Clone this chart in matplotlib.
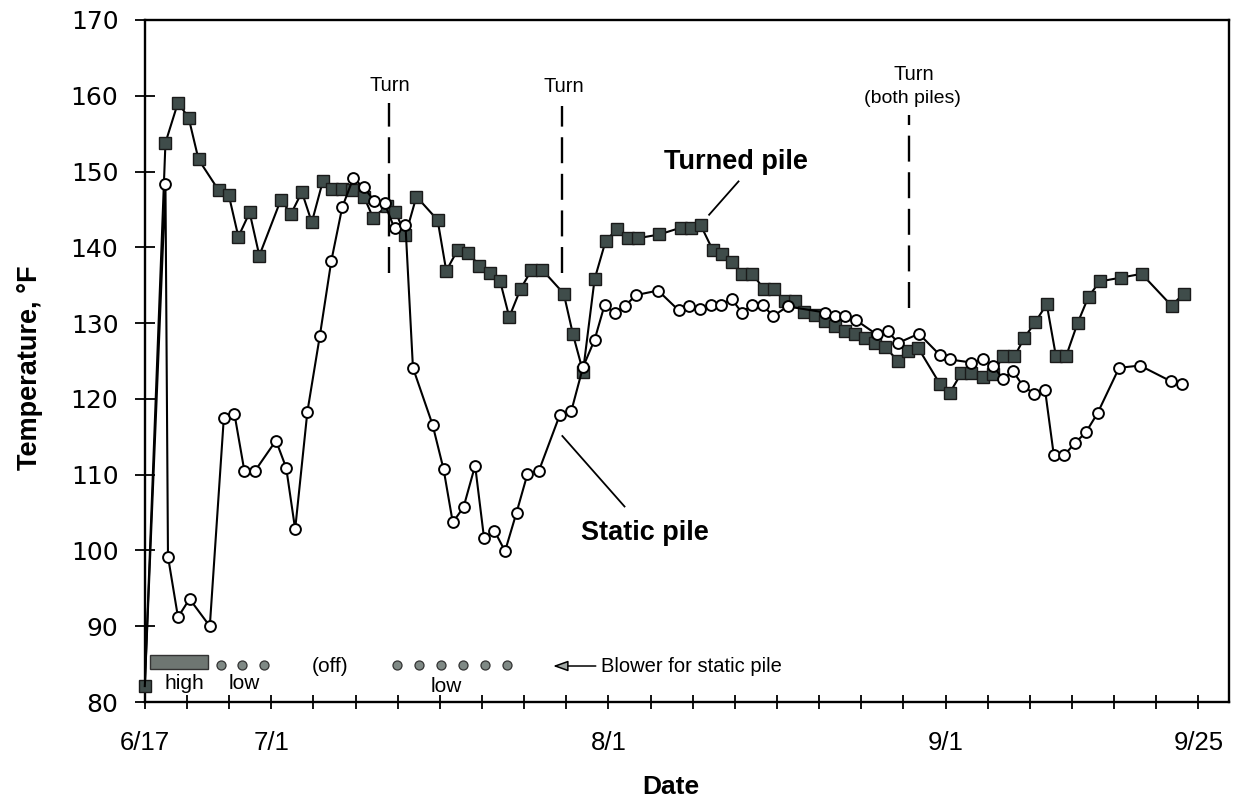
import matplotlib
matplotlib.use('Agg')
import matplotlib.pyplot as plt
from matplotlib.patches import Rectangle

plt.rcParams['font.family'] = ['Liberation Sans', 'DejaVu Sans']

# ---------------- data (days after 6/17, temperature in °F) ----------------
turned_day = [0.0, 1.96, 3.15, 4.16, 5.10, 7.02, 7.97, 8.88, 9.95, 10.87, 12.92, 13.87,
              14.91, 15.85, 16.89, 17.80, 18.74, 19.69, 20.79, 21.67, 22.94, 23.79, 24.74,
              25.78, 27.79, 28.61, 29.71, 30.72, 31.76, 32.77, 33.71, 34.59, 35.66, 36.70,
              37.74, 39.76, 40.64, 41.59, 42.69, 43.73, 44.80, 45.84, 46.79, 48.84, 50.88,
              51.82, 52.77, 53.88, 54.75, 55.70, 56.71, 57.66, 58.76, 59.71, 60.75, 61.69,
              62.54, 63.64, 64.58, 65.53, 66.47, 67.42, 68.37, 69.31, 70.26, 71.46, 72.47,
              73.41, 75.45, 76.40, 77.50, 78.45, 79.56, 80.50, 81.45, 82.54, 83.49, 84.50,
              85.60, 86.48, 87.43, 88.53, 89.57, 90.64, 92.63, 94.61, 97.45, 98.61]
turned_temp = [82.1, 153.8, 159.1, 157.1, 151.6, 147.5, 146.9, 141.4, 144.6, 138.9, 146.3, 144.4,
               147.3, 143.3, 148.7, 147.7, 147.7, 147.5, 146.7, 143.9, 145.4, 144.7, 141.6,
               146.7, 143.6, 136.9, 139.7, 139.2, 137.6, 136.6, 135.6, 130.8, 134.5, 137.0,
               137.0, 133.9, 128.5, 123.6, 135.8, 140.8, 142.4, 141.2, 141.2, 141.7, 142.6,
               142.6, 142.9, 139.7, 139.1, 138.1, 136.5, 136.5, 134.5, 134.5, 132.9, 132.9,
               131.5, 131.1, 130.3, 129.6, 128.9, 128.5, 128.0, 127.4, 126.9, 125.0, 126.3,
               126.7, 122.0, 120.8, 123.4, 123.4, 122.9, 123.3, 125.6, 125.6, 128.1, 130.1,
               132.5, 125.6, 125.6, 130.0, 133.5, 135.5, 136.0, 136.5, 132.3, 133.9]

static_day = [0.0, 1.96, 2.20, 3.15, 4.25, 6.17, 7.50, 8.51, 9.45, 10.46, 12.45, 13.42, 14.27,
              15.43, 16.61, 17.70, 18.74, 19.78, 20.79, 21.79, 22.75, 23.70, 24.74, 25.45,
              27.31, 28.36, 29.23, 30.25, 31.35, 32.20, 33.18, 34.19, 35.28, 36.32, 37.40,
              39.39, 40.48, 41.59, 42.69, 43.64, 44.58, 45.59, 46.63, 48.71, 50.66, 51.67,
              52.68, 53.71, 54.66, 55.70, 56.65, 57.66, 58.67, 59.61, 61.00, 64.58, 65.53,
              66.47, 67.49, 69.47, 70.51, 71.52, 73.47, 75.45, 76.40, 78.45, 79.56, 80.50,
              81.45, 82.39, 83.34, 84.38, 85.44, 86.27, 87.27, 88.31, 89.32, 90.42, 92.47,
              94.45, 97.42, 98.46]
static_temp = [82.1, 148.3, 99.2, 91.2, 93.6, 90.0, 117.5, 118.0, 110.5, 110.5, 114.5, 110.9, 102.8,
               118.3, 128.3, 138.2, 145.3, 149.1, 147.9, 146.1, 145.8, 142.5, 142.9, 124.1,
               116.6, 110.7, 103.7, 105.7, 111.2, 101.6, 102.6, 99.9, 105.0, 110.1, 110.5,
               117.9, 118.4, 124.2, 127.8, 132.4, 131.3, 132.3, 133.7, 134.3, 131.7, 132.2,
               131.8, 132.4, 132.4, 133.2, 131.4, 132.4, 132.4, 130.9, 132.2, 131.4, 131.0,
               130.9, 130.4, 128.5, 128.9, 127.4, 128.6, 125.8, 125.2, 124.8, 125.2, 124.4,
               122.6, 123.7, 121.7, 120.7, 121.2, 112.6, 112.6, 114.2, 115.6, 118.1, 124.1,
               124.4, 122.3, 121.9]

turn_days = [23.2, 39.6, 72.5]
turn_labels = ['Turn', 'Turn', 'Turn\n(both piles)']

blower_high = (0.47, 5.98)          # start / end day of "high" blower period
blower_low_days = [7.25, 9.2, 11.3, 23.9, 26.0, 28.1, 30.2, 32.3, 34.4]

x_tick_days = list(range(0, 101, 4))
x_tick_text = {0: '6/17', 12: '7/1', 44: '8/1', 76: '9/1', 100: '9/25'}
y_ticks = list(range(80, 171, 10))

# ---------------- figure ----------------
W, H = 1237, 799
fig = plt.figure(figsize=(W / 100, H / 100), dpi=100)
ax = fig.add_axes([144.8 / W, 97 / H, (1229 - 144.8) / W, 682 / H])
ax.set_xlim(0.45, 102.9)
ax.set_ylim(80, 170)

SQ = '#3f4c4a'
ax.plot(turned_day, turned_temp, color='black', lw=1.5, marker='s', ms=8.3,
        mfc=SQ, mec='#1a1a1a', mew=1.0, zorder=3, clip_on=False)
ax.plot(static_day, static_temp, color='black', lw=1.5, marker='o', ms=7.8,
        mfc='white', mec='black', mew=1.4, zorder=4, clip_on=False,
        markevery=list(range(1, len(static_day))))

# turn markers
turn_tops = [159.1, 158.6, 157.5]
turn_bottoms = [136.6, 136.6, 132.0]
for d, top, bot in zip(turn_days, turn_tops, turn_bottoms):
    ax.plot([d, d], [bot, top], color='black', lw=1.7, dashes=(11, 4.5), zorder=2)
ax.text(23.25, 161.3, 'Turn', ha='center', va='center', fontsize=14.5)
ax.text(39.74, 161.2, 'Turn', ha='center', va='center', fontsize=14.5)
ax.text(72.97, 162.8, 'Turn', ha='center', va='center', fontsize=14.5)
ax.text(72.87, 159.6, '(both piles)', ha='center', va='center', fontsize=14)

# series labels
ax.text(56.14, 151.2, 'Turned pile', ha='center', va='center', fontsize=19.5, fontweight='bold')
ax.plot([56.35, 53.56], [148.7, 144.3], color='black', lw=1.3)
ax.text(47.5, 102.3, 'Static pile', ha='center', va='center', fontsize=19.5, fontweight='bold')
ax.plot([39.63, 45.53], [115.1, 105.8], color='black', lw=1.3)

# blower annotation
ax.add_patch(Rectangle((blower_high[0], 84.4), blower_high[1] - blower_high[0], 1.8,
                       fc='#6e7672', ec='#333333', lw=1.0, zorder=3))
ax.plot(blower_low_days, [84.9] * len(blower_low_days), 'o', ms=6.5,
        mfc='#7f8985', mec='#333333', mew=0.9, zorder=3)
ax.text(3.8, 82.4, 'high', ha='center', va='center', fontsize=15)
ax.text(9.4, 82.4, 'low', ha='center', va='center', fontsize=15)
ax.text(17.6, 84.75, '(off)', ha='center', va='center', fontsize=15)
ax.text(28.6, 82.05, 'low', ha='center', va='center', fontsize=15)
ax.annotate('', xy=(38.75, 84.75), xytext=(42.8, 84.75),
            arrowprops=dict(arrowstyle='-|>,head_length=0.9,head_width=0.32',
                            facecolor='#a0a7a4', edgecolor='black', lw=1.1,
                            shrinkA=0, shrinkB=0))
ax.text(43.3, 84.75, 'Blower for static pile', ha='left', va='center', fontsize=14.5)

# axes styling
for s in ax.spines.values():
    s.set_linewidth(1.7)
ax.set_xticks(x_tick_days)
ax.set_xticklabels([x_tick_text.get(d, '') for d in x_tick_days])
ax.set_yticks(y_ticks)
ax.set_yticklabels([str(v) for v in y_ticks])
ax.tick_params(axis='x', direction='inout', length=10, width=1.3, pad=16, labelsize=18.5)
ax.tick_params(axis='y', direction='inout', length=14, width=1.3, pad=12, labelsize=18)
for lbl in ax.get_yticklabels():
    lbl.set_family('DejaVu Sans')

fig.text(671 / W, 1 - 787 / H, 'Date', ha='center', va='center', fontsize=19, fontweight='bold')
fig.text(30 / W, 1 - 368 / H, 'Temperature, °F', rotation=90, ha='center', va='center',
         fontsize=19.5, fontweight='bold')

fig.savefig('out.png', dpi=100)
